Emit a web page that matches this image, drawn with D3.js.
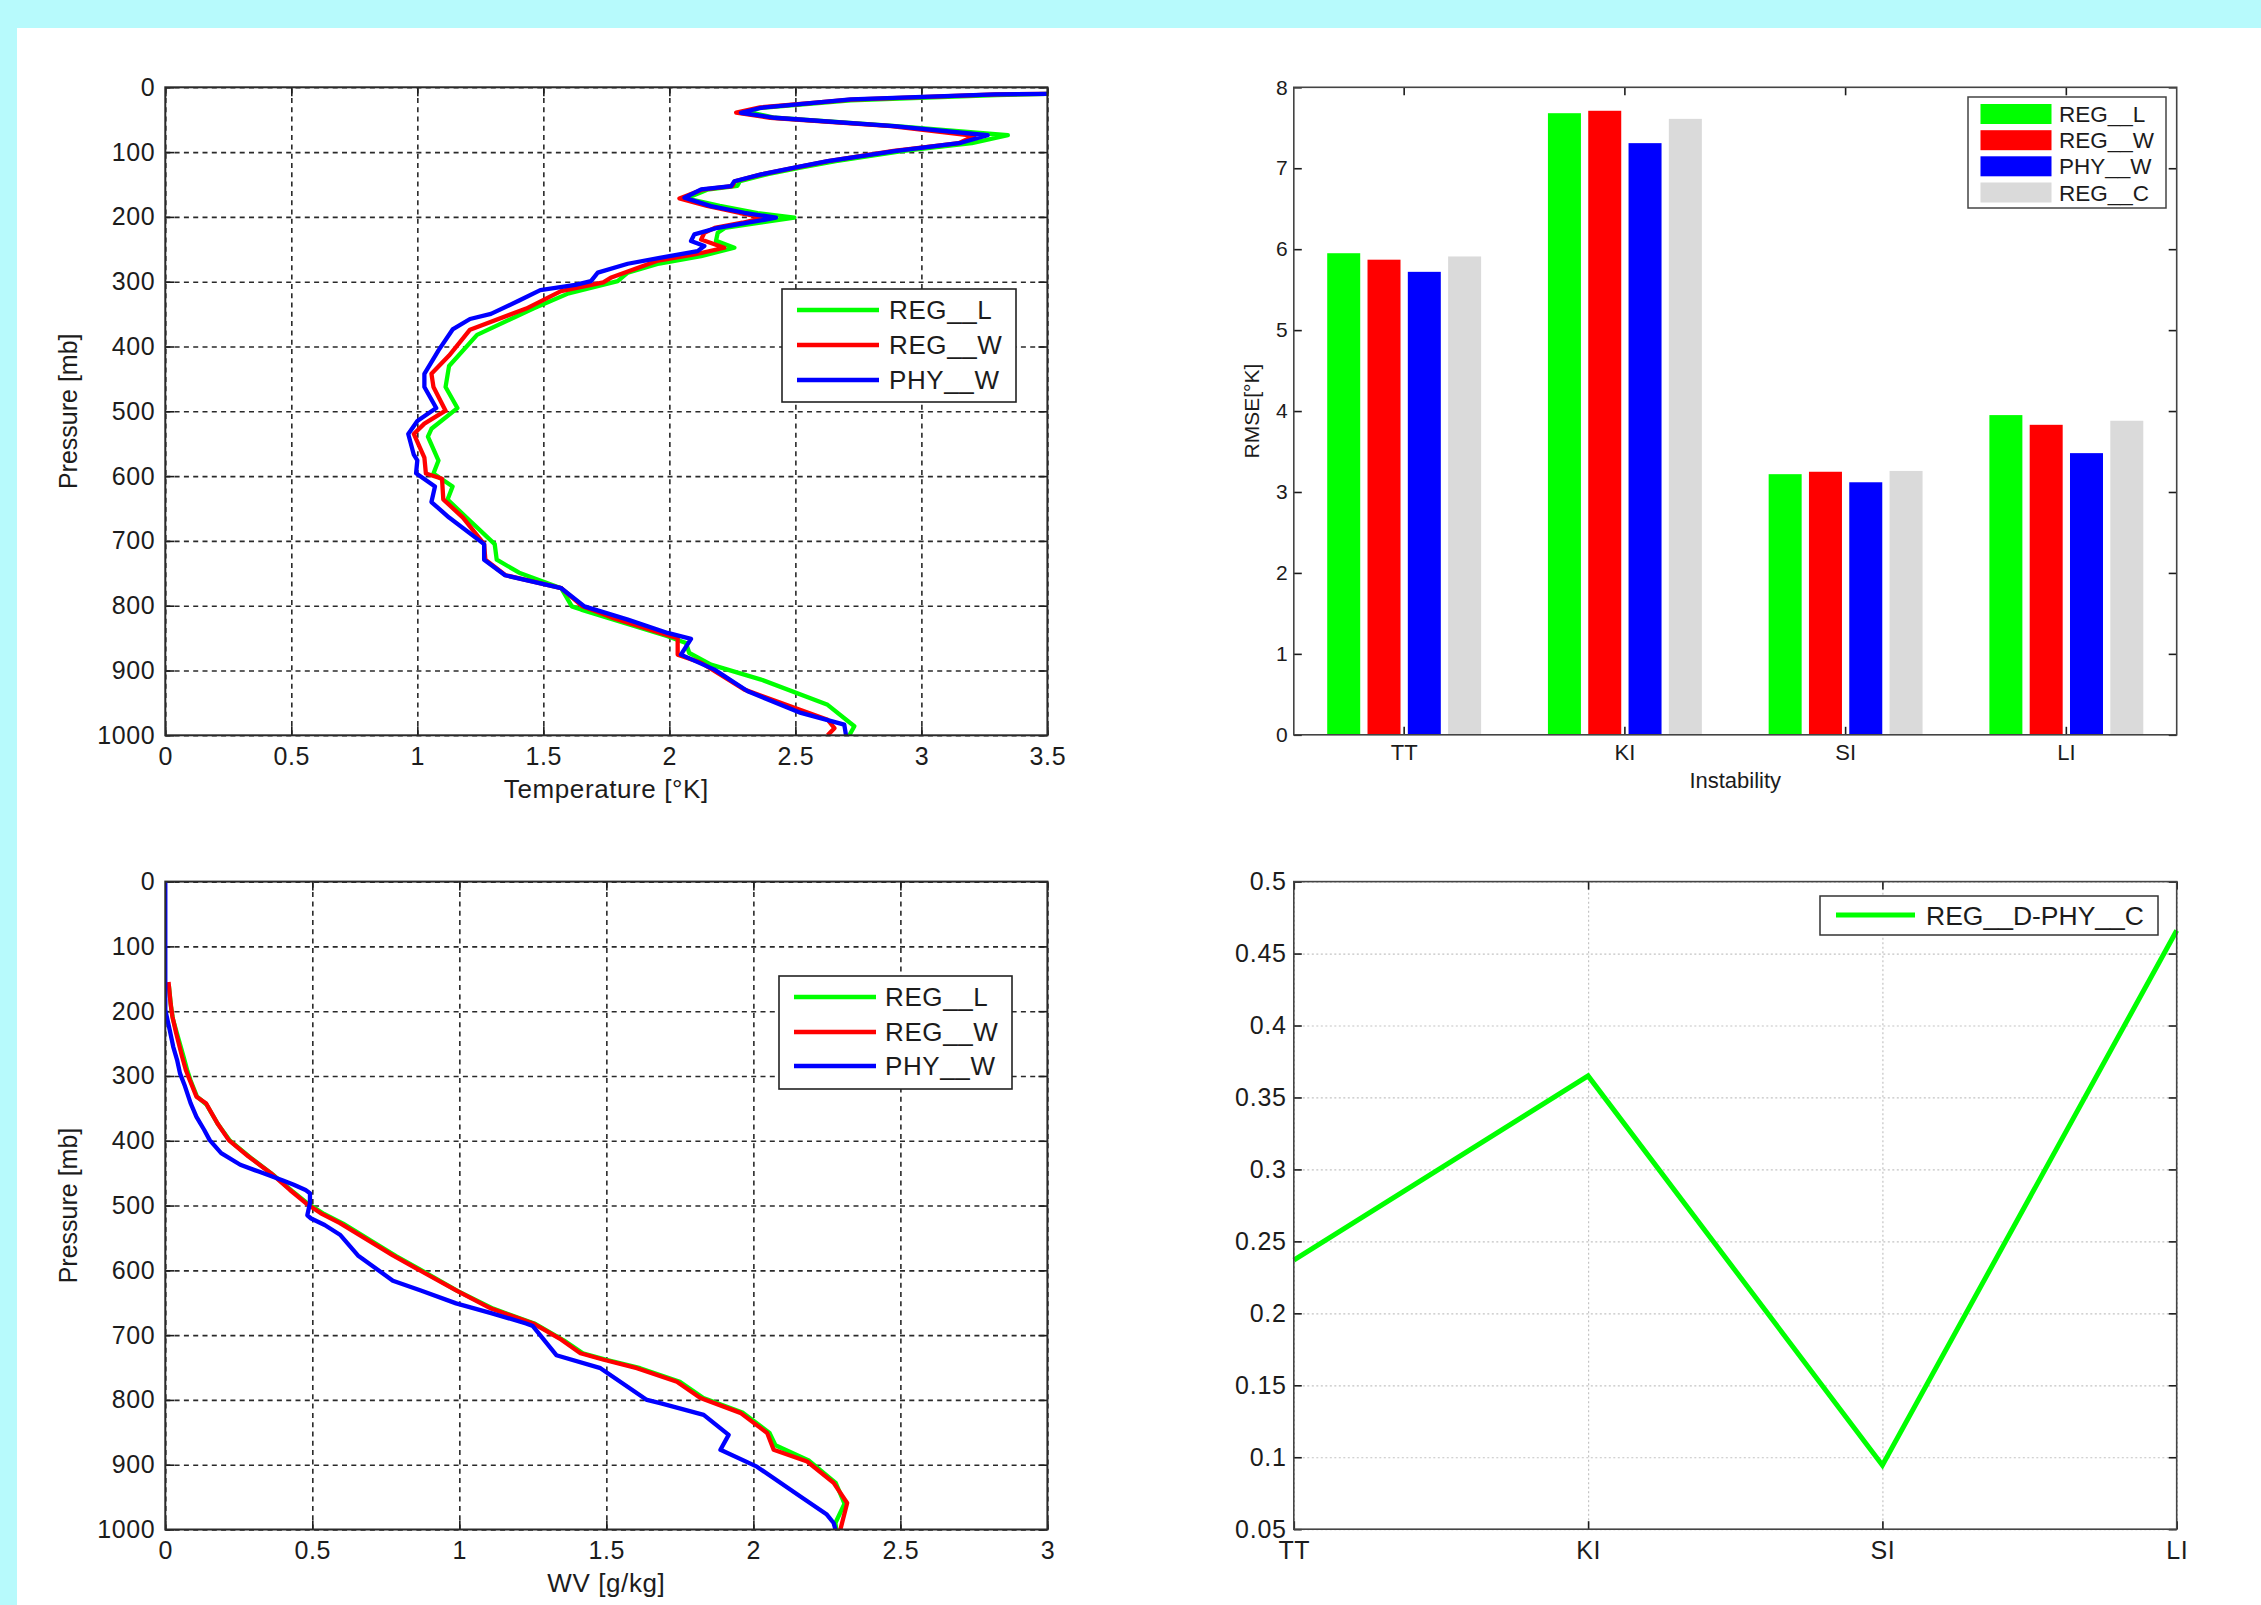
<!DOCTYPE html>
<html>
<head>
<meta charset="utf-8">
<script src="https://cdn.jsdelivr.net/npm/d3@7/dist/d3.min.js"></script>
<style>
  html, body { margin: 0; padding: 0; background: #b7fafc; }
  svg { display: block; }
  text { font-family: "Liberation Sans", Arial, Helvetica, sans-serif; fill: #1c1c1c; }
</style>
</head>
<body>
<svg id="fig" width="2261" height="1605"></svg>
<script>
// ---------- data ----------
const profileNames = ["REG__L", "REG__W", "PHY__W"];

// temperature RMSE profiles: [temperature °K, pressure mb]
const tempRegL = [[3.52,10],[3.3,12],[2.72,20],[2.36,32],[2.311,38],[2.42,47],[2.9,60],[3.343,74],[3.2,86],[2.93,98],[2.66,114],[2.52,124],[2.39,134],[2.28,145],[2.27,152],[2.15,158],[2.066,171.5],[2.2,183],[2.35,194],[2.496,201],[2.36,209],[2.22,217],[2.192,224.5],[2.185,237],[2.258,247.6],[2.126,260.5],[1.96,272],[1.835,286],[1.795,299],[1.6,318],[1.46,341.5],[1.237,382],[1.126,430],[1.112,462.5],[1.159,495],[1.056,527],[1.042,539],[1.084,576],[1.064,596],[1.14,616],[1.12,636],[1.195,664],[1.307,705],[1.315,729],[1.404,749],[1.571,773],[1.613,801],[1.65,806],[1.993,847],[2.066,857.5],[2.079,873],[2.165,891],[2.364,914],[2.628,953],[2.734,986],[2.714,1000]];
const tempRegW = [[3.52,10],[3.3,11],[2.72,19],[2.36,31],[2.265,39],[2.4,47],[2.88,60],[3.21,75],[3.15,86],[2.89,98],[2.63,114],[2.5,124],[2.37,134],[2.26,145],[2.25,152.5],[2.13,158],[2.04,171.5],[2.15,183],[2.28,194],[2.377,201],[2.29,209],[2.18,217],[2.139,224.5],[2.126,235],[2.218,247.6],[2.099,258],[1.95,268],[1.767,294],[1.738,301],[1.57,314.5],[1.432,341.5],[1.209,374],[1.126,414],[1.056,442],[1.064,462.5],[1.112,499],[1.028,519],[0.986,535],[1.028,571.5],[1.034,596],[1.098,604],[1.103,636],[1.181,664],[1.265,705],[1.27,729],[1.35,753],[1.571,773],[1.655,801],[1.77,818],[1.99,845],[2.033,850],[2.033,875.5],[2.126,888],[2.298,929.5],[2.628,976],[2.655,989],[2.628,1000]];
const tempPhyW = [[3.52,10],[3.29,11],[2.72,18.7],[2.364,31.6],[2.284,39.3],[2.417,47],[2.893,60],[3.263,74],[3.157,85.6],[2.893,98.5],[2.628,114],[2.496,124],[2.364,134.5],[2.258,145],[2.245,152.5],[2.126,157.6],[2.06,170.5],[2.165,183.3],[2.298,193.6],[2.423,201.3],[2.311,209],[2.192,216.8],[2.099,227],[2.086,237.3],[2.139,245],[2.112,252.8],[1.967,263],[1.835,272.3],[1.716,286],[1.689,299],[1.627,305],[1.488,313],[1.404,329],[1.292,349.6],[1.209,357.6],[1.14,373.7],[1.084,406],[1.028,442.4],[1.028,462.5],[1.075,495],[1.0,515],[0.964,535],[0.986,567],[1.0,575.6],[0.995,595.7],[1.07,616],[1.056,640],[1.126,664],[1.265,705],[1.265,729],[1.348,753],[1.571,773],[1.663,801],[1.835,821.5],[1.993,842],[2.086,851.3],[2.046,875.5],[2.179,898.7],[2.311,932],[2.522,965.5],[2.694,983.5],[2.701,1000]];

// water vapour RMSE profiles: [WV g/kg, pressure mb]
const wvRegL = [[0.012,160],[0.02,195],[0.026,212],[0.04,235],[0.062,270],[0.075,292],[0.086,307],[0.108,332],[0.14,344],[0.18,375],[0.22,400],[0.29,426],[0.365,452],[0.43,477],[0.485,497],[0.54,513],[0.605,528],[0.735,564],[0.785,578],[0.875,601],[0.995,632],[1.115,659],[1.255,682],[1.355,708],[1.42,728],[1.5,738],[1.615,751],[1.75,772],[1.83,797],[1.965,820],[2.055,851],[2.075,870],[2.19,894],[2.28,928],[2.31,960],[2.279,990],[2.282,1000]];
const wvRegW = [[0.011,155],[0.018,188],[0.024,208],[0.037,234],[0.057,270],[0.07,291],[0.083,306],[0.106,332],[0.138,342],[0.177,373],[0.216,399],[0.282,424],[0.359,450],[0.424,476],[0.477,496],[0.529,512],[0.594,527],[0.724,563],[0.774,577],[0.869,601],[0.989,631],[1.108,659],[1.251,682],[1.347,707],[1.412,728],[1.491,738],[1.604,751],[1.74,772],[1.82,797],[1.956,820],[2.047,851],[2.069,877],[2.183,895],[2.273,928],[2.319,959],[2.296,1000]];
const wvPhyW = [[0,0],[0,198],[0.015,229],[0.027,255],[0.04,275],[0.05,296],[0.067,316],[0.086,342],[0.106,363],[0.132,383],[0.151,399],[0.19,419],[0.255,437],[0.32,448],[0.398,461],[0.437,468],[0.477,476],[0.492,481],[0.492,496],[0.483,515],[0.496,520],[0.542,530],[0.594,545],[0.655,577],[0.774,616],[0.869,631],[0.989,651],[1.108,666],[1.227,682],[1.25,686],[1.33,731],[1.48,751],[1.638,800],[1.683,805],[1.831,823],[1.916,854],[1.888,877],[2.012,903],[2.16,949],[2.25,977],[2.273,990],[2.279,1000]];

// instability index RMSE (°K)
const indices = ["TT", "KI", "SI", "LI"];
const barNames = ["REG__L", "REG__W", "PHY__W", "REG__C"];
const rmseRegL = [5.95, 7.68, 3.22, 3.95];
const rmseRegW = [5.87, 7.71, 3.25, 3.83];
const rmsePhyW = [5.72, 7.31, 3.12, 3.48];
const rmseRegC = [5.91, 7.61, 3.26, 3.88];

// difference between REG__D and PHY__C
const diffName = "REG__D-PHY__C";
const diffValues = [0.237, 0.365, 0.0945, 0.466];

// tick values
const tempTicks = [0, 0.5, 1, 1.5, 2, 2.5, 3, 3.5];
const wvTicks = [0, 0.5, 1, 1.5, 2, 2.5, 3];
const pressureTicks = [0, 100, 200, 300, 400, 500, 600, 700, 800, 900, 1000];
const rmseTicks = [0, 1, 2, 3, 4, 5, 6, 7, 8];
const diffTicks = [0.05, 0.1, 0.15, 0.2, 0.25, 0.3, 0.35, 0.4, 0.45, 0.5];

// ---------- styling ----------
const lineColors = ["#00ff00", "#ff0000", "#0000ff"];
const barColors = ["#00ff00", "#ff0000", "#0000ff", "#dadada"];
const ink = "#1c1c1c";

const svg = d3.select("#fig");
svg.append("rect").attr("x", 17).attr("y", 28).attr("width", 2261 - 17).attr("height", 1605 - 28).attr("fill", "#ffffff");

function styleAxis(sel, size, spacing) {
  sel.select(".domain").remove();
  sel.selectAll("line").attr("stroke", ink).attr("stroke-width", 1.6);
  sel.selectAll("text").attr("font-size", size).attr("fill", ink)
     .attr("letter-spacing", spacing || 0)
     .attr("font-family", "'Liberation Sans', Arial, Helvetica, sans-serif");
}

function frame(box, color, width) {
  svg.append("rect").attr("x", box.x0).attr("y", box.y0)
     .attr("width", box.x1 - box.x0).attr("height", box.y1 - box.y0)
     .attr("fill", "none").attr("stroke", color).attr("stroke-width", width);
}

function legendLines(lb, names, colors, size, lineW) {
  const g = svg.append("g");
  g.append("rect").attr("x", lb.x0).attr("y", lb.y0).attr("width", lb.x1 - lb.x0).attr("height", lb.y1 - lb.y0)
   .attr("fill", "#fff").attr("stroke", "#222").attr("stroke-width", 1.6);
  names.forEach((n, i) => {
    const yy = lb.rows[i];
    g.append("line").attr("x1", lb.lx0).attr("x2", lb.lx1).attr("y1", yy).attr("y2", yy)
     .attr("stroke", colors[i]).attr("stroke-width", lineW);
    g.append("text").attr("x", lb.tx).attr("y", yy).attr("dy", "0.36em").attr("font-size", size)
     .attr("letter-spacing", 0.6).text(n);
  });
}

// ---------- vertical profile panels ----------
function profilePanel(box, xDomain, xTicks, xTitle, series, lb) {
  const x = d3.scaleLinear().domain(xDomain).range([box.x0, box.x1]);
  const y = d3.scaleLinear().domain([0, 1000]).range([box.y0, box.y1]);
  const h = box.y1 - box.y0, w = box.x1 - box.x0;
  const fs = 25;

  // dashed grid
  const grid = svg.append("g");
  grid.append("g").attr("transform", `translate(0,${box.y1})`)
      .call(d3.axisBottom(x).tickValues(xTicks).tickSize(-h).tickFormat(""))
      .call(s => s.select(".domain").remove());
  grid.append("g").attr("transform", `translate(${box.x0},0)`)
      .call(d3.axisLeft(y).tickValues(pressureTicks).tickSize(-w).tickFormat(""))
      .call(s => s.select(".domain").remove());
  grid.selectAll("line").attr("stroke", "#2a2a2a").attr("stroke-width", 1.6).attr("stroke-dasharray", "5,4.3");

  // inward ticks and labels
  svg.append("g").attr("transform", `translate(0,${box.y1})`)
     .call(d3.axisBottom(x).tickValues(xTicks).tickSize(-9).tickPadding(12).tickFormat(d => String(d)))
     .call(s => styleAxis(s, fs, 0.6));
  svg.append("g").attr("transform", `translate(0,${box.y0})`)
     .call(d3.axisTop(x).tickValues(xTicks).tickSize(-9).tickFormat(""))
     .call(s => styleAxis(s, fs));
  svg.append("g").attr("transform", `translate(${box.x0},0)`)
     .call(d3.axisLeft(y).tickValues(pressureTicks).tickSize(-9).tickPadding(10).tickFormat(d => String(d)))
     .call(s => styleAxis(s, fs, 0.6));
  svg.append("g").attr("transform", `translate(${box.x1},0)`)
     .call(d3.axisRight(y).tickValues(pressureTicks).tickSize(-9).tickFormat(""))
     .call(s => styleAxis(s, fs));

  // profiles
  const clipId = "clip" + Math.round(box.y0);
  svg.append("clipPath").attr("id", clipId).append("rect")
     .attr("x", box.x0).attr("y", box.y0).attr("width", w).attr("height", h);
  const line = d3.line().x(d => x(d[0])).y(d => y(d[1]));
  const lg = svg.append("g").attr("clip-path", `url(#${clipId})`);
  series.forEach((s, i) => {
    lg.append("path").attr("d", line(s)).attr("fill", "none")
      .attr("stroke", lineColors[i]).attr("stroke-width", 4.3).attr("stroke-linejoin", "round");
  });

  frame(box, "#2a2a2a", 2);

  svg.append("text").attr("x", (box.x0 + box.x1) / 2).attr("y", box.y1 + 53).attr("dy", "0.36em")
     .attr("text-anchor", "middle").attr("font-size", 26).attr("letter-spacing", 0.6).text(xTitle);
  svg.append("text").attr("transform", `translate(68,${(box.y0 + box.y1) / 2}) rotate(-90)`)
     .attr("dy", "0.36em").attr("text-anchor", "middle").attr("font-size", 25).text("Pressure [mb]");

  legendLines(lb, profileNames, lineColors, 26, 4.3);
}

profilePanel({x0: 165.3, x1: 1047.4, y0: 87.3, y1: 735.3}, [0, 3.5], tempTicks, "Temperature [\u00b0K]",
  [tempRegL, tempRegW, tempPhyW],
  {x0: 782, x1: 1016, y0: 289, y1: 402, lx0: 797, lx1: 879, tx: 889, rows: [310, 345, 380]});

profilePanel({x0: 165.3, x1: 1047.4, y0: 881.6, y1: 1529.5}, [0, 3], wvTicks, "WV [g/kg]",
  [wvRegL, wvRegW, wvPhyW],
  {x0: 779, x1: 1012, y0: 976, y1: 1089, lx0: 794, lx1: 876, tx: 885, rows: [997, 1032, 1066]});

// ---------- grouped bar chart ----------
(function () {
  const box = {x0: 1293.8, x1: 2176.7, y0: 87.3, y1: 734.8};
  const fs = 21;
  const xb = d3.scaleBand().domain(indices).range([box.x0, box.x1]).padding(0);
  const yb = d3.scaleLinear().domain([0, 8]).range([box.y1, box.y0]);
  const bw = xb.bandwidth();
  const step = 0.1826 * bw, barW = 0.1495 * bw;
  const sets = [rmseRegL, rmseRegW, rmsePhyW, rmseRegC];

  sets.forEach((vals, k) => {
    svg.append("g").selectAll("rect").data(vals).join("rect")
      .attr("x", (d, i) => xb(indices[i]) + bw / 2 + (k - 1.5) * step - barW / 2)
      .attr("y", d => yb(d))
      .attr("width", barW)
      .attr("height", d => yb(0) - yb(d))
      .attr("fill", barColors[k]);
  });

  svg.append("g").attr("transform", `translate(0,${box.y1})`)
     .call(d3.axisBottom(xb).tickSize(-8).tickPadding(10)).call(s => styleAxis(s, 22));
  svg.append("g").attr("transform", `translate(0,${box.y0})`)
     .call(d3.axisTop(xb).tickSize(-8).tickFormat("")).call(s => styleAxis(s, fs));
  svg.append("g").attr("transform", `translate(${box.x0},0)`)
     .call(d3.axisLeft(yb).tickValues(rmseTicks).tickSize(-8).tickPadding(6).tickFormat(d => String(d)))
     .call(s => styleAxis(s, fs));
  svg.append("g").attr("transform", `translate(${box.x1},0)`)
     .call(d3.axisRight(yb).tickValues(rmseTicks).tickSize(-8).tickFormat(""))
     .call(s => styleAxis(s, fs));
  frame(box, "#444", 1.6);

  svg.append("text").attr("x", (box.x0 + box.x1) / 2).attr("y", 780).attr("dy", "0.36em")
     .attr("text-anchor", "middle").attr("font-size", 22).text("Instability");
  svg.append("text").attr("transform", `translate(1251,${(box.y0 + box.y1) / 2}) rotate(-90)`)
     .attr("dy", "0.36em").attr("text-anchor", "middle").attr("font-size", fs).text("RMSE[\u00b0K]");

  // legend
  const lg = svg.append("g");
  lg.append("rect").attr("x", 1968).attr("y", 97).attr("width", 198).attr("height", 111)
    .attr("fill", "#fff").attr("stroke", "#444").attr("stroke-width", 1.5);
  const rows = [114, 140.2, 166.3, 192.5];
  barNames.forEach((n, i) => {
    lg.append("rect").attr("x", 1980.5).attr("y", rows[i] - 10).attr("width", 71).attr("height", 20).attr("fill", barColors[i]);
    lg.append("text").attr("x", 2059).attr("y", rows[i]).attr("dy", "0.36em").attr("font-size", 22.5).text(n);
  });
})();

// ---------- difference line chart ----------
(function () {
  const box = {x0: 1293.8, x1: 2176.7, y0: 881.6, y1: 1529.2};
  const fs = 25;
  const xp = d3.scalePoint().domain(indices).range([box.x0, box.x1]);
  const yp = d3.scaleLinear().domain([0.05, 0.5]).range([box.y1, box.y0]);
  const w = box.x1 - box.x0, h = box.y1 - box.y0;

  const grid = svg.append("g");
  grid.append("g").attr("transform", `translate(${box.x0},0)`)
      .call(d3.axisLeft(yp).tickValues(diffTicks).tickSize(-w).tickFormat(""))
      .call(s => s.select(".domain").remove());
  grid.append("g").attr("transform", `translate(0,${box.y1})`)
      .call(d3.axisBottom(xp).tickSize(-h).tickFormat(""))
      .call(s => s.select(".domain").remove());
  grid.selectAll("line").attr("stroke", "#c4c4c4").attr("stroke-width", 1.2).attr("stroke-dasharray", "2,2.5");

  svg.append("g").attr("transform", `translate(0,${box.y1})`)
     .call(d3.axisBottom(xp).tickSize(-8).tickPadding(12)).call(s => styleAxis(s, fs, 0.6));
  svg.append("g").attr("transform", `translate(0,${box.y0})`)
     .call(d3.axisTop(xp).tickSize(-8).tickFormat("")).call(s => styleAxis(s, fs));
  svg.append("g").attr("transform", `translate(${box.x0},0)`)
     .call(d3.axisLeft(yp).tickValues(diffTicks).tickSize(-8).tickPadding(7).tickFormat(d => String(d)))
     .call(s => styleAxis(s, fs, 0.8));
  svg.append("g").attr("transform", `translate(${box.x1},0)`)
     .call(d3.axisRight(yp).tickValues(diffTicks).tickSize(-8).tickFormat(""))
     .call(s => styleAxis(s, fs));

  const line = d3.line().x((d, i) => xp(indices[i])).y(d => yp(d));
  svg.append("path").attr("d", line(diffValues)).attr("fill", "none")
     .attr("stroke", "#00ff00").attr("stroke-width", 5).attr("stroke-linejoin", "miter");

  frame(box, "#444", 1.6);

  const lg = svg.append("g");
  lg.append("rect").attr("x", 1820).attr("y", 896).attr("width", 338).attr("height", 39)
    .attr("fill", "#fff").attr("stroke", "#333").attr("stroke-width", 1.5);
  lg.append("line").attr("x1", 1836).attr("x2", 1915).attr("y1", 915).attr("y2", 915)
    .attr("stroke", "#00ff00").attr("stroke-width", 5);
  lg.append("text").attr("x", 1926).attr("y", 915).attr("dy", "0.36em").attr("font-size", 26.5).text(diffName);
})();
</script>
</body>
</html>
